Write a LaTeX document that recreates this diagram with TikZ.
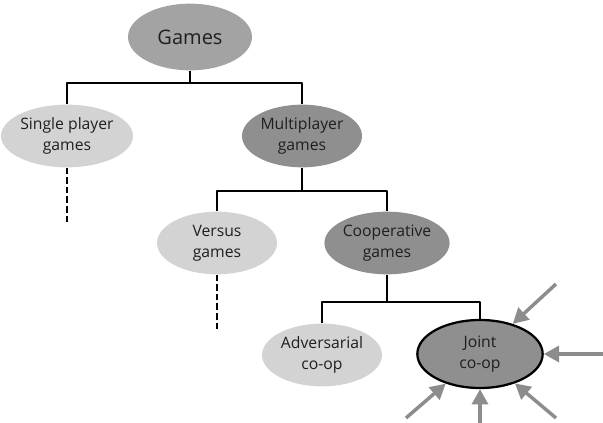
\documentclass[tikz,border=0pt]{standalone}
\usepackage{fontspec}
\setmainfont{Open Sans}
\usetikzlibrary{shapes.geometric,arrows.meta}
\definecolor{palegray}{HTML}{D3D3D3}
\definecolor{midgray}{HTML}{A3A3A3}
\definecolor{deepgray}{HTML}{8F8F8F}
\definecolor{arrowgray}{HTML}{8C8C8C}

\begin{document}
\begin{tikzpicture}[x=0.75pt, y=-0.75pt, font=\fontsize{11.8}{15.5}\selectfont, line join=round,
	blob/.style={ellipse, align=center, text=black!88, minimum width=90pt, minimum height=47pt, inner sep=0pt},
	pale/.style={blob, fill=palegray},
	deep/.style={blob, fill=deepgray},
	link/.style={line width=1.8pt},
	stub/.style={line width=2pt, dash pattern=on 5pt off 2.2pt},
	push/.style={draw=arrowgray, line width=2.6pt, -{Triangle[length=11.5pt, width=12pt]}}]
			\useasboundingbox (0,0) rectangle (603,423);
			
			\node[blob, fill=midgray, minimum width=93pt, minimum height=50pt, font=\fontsize{15}{18}\selectfont] (G) at (190,37) {Games};
			\node[pale] (S) at (67,136) {Single player\\games};
			\node[deep] (M) at (302,136) {Multiplayer\\games};
			\node[pale] (V) at (217,243) {Versus\\games};
			\node[deep] (C) at (387,243) {Cooperative\\games};
			\node[pale] (A) at (322,355) {Adversarial\\co-op};
			\node[deep, draw, line width=1.7pt, minimum width=94pt, minimum height=51pt] (J) at (480,354) {Joint\\co-op};
			
			\coordinate (g1) at (190,83);
			\coordinate (m1) at (302,191);
			\coordinate (c1) at (387,302);
			\draw[link] (G) -- (g1);
			\draw[link] (S.north) |- (g1) -| (M.north);
			\draw[link] (M) -- (m1);
			\draw[link] (V.north) |- (m1) -| (C.north);
			\draw[link] (C) -- (c1);
			\draw[link] (A.north) |- (c1) -| (J.north);
			
			\coordinate (s1) at (67,224);
			\coordinate (v1) at (217,330);
			\draw[stub] (S) -- (s1);
			\draw[stub] (V) -- (v1);
			
			\coordinate (t1) at (556,284);
			\coordinate (t2) at (603,354);
			\coordinate (t3) at (556,418);
			\coordinate (t4) at (480,423);
			\coordinate (t5) at (406,418);
			\foreach \t in {t1,t2,t3,t4,t5}
				\draw[push] (\t) -- (J);
		\end{tikzpicture}
\end{document}
